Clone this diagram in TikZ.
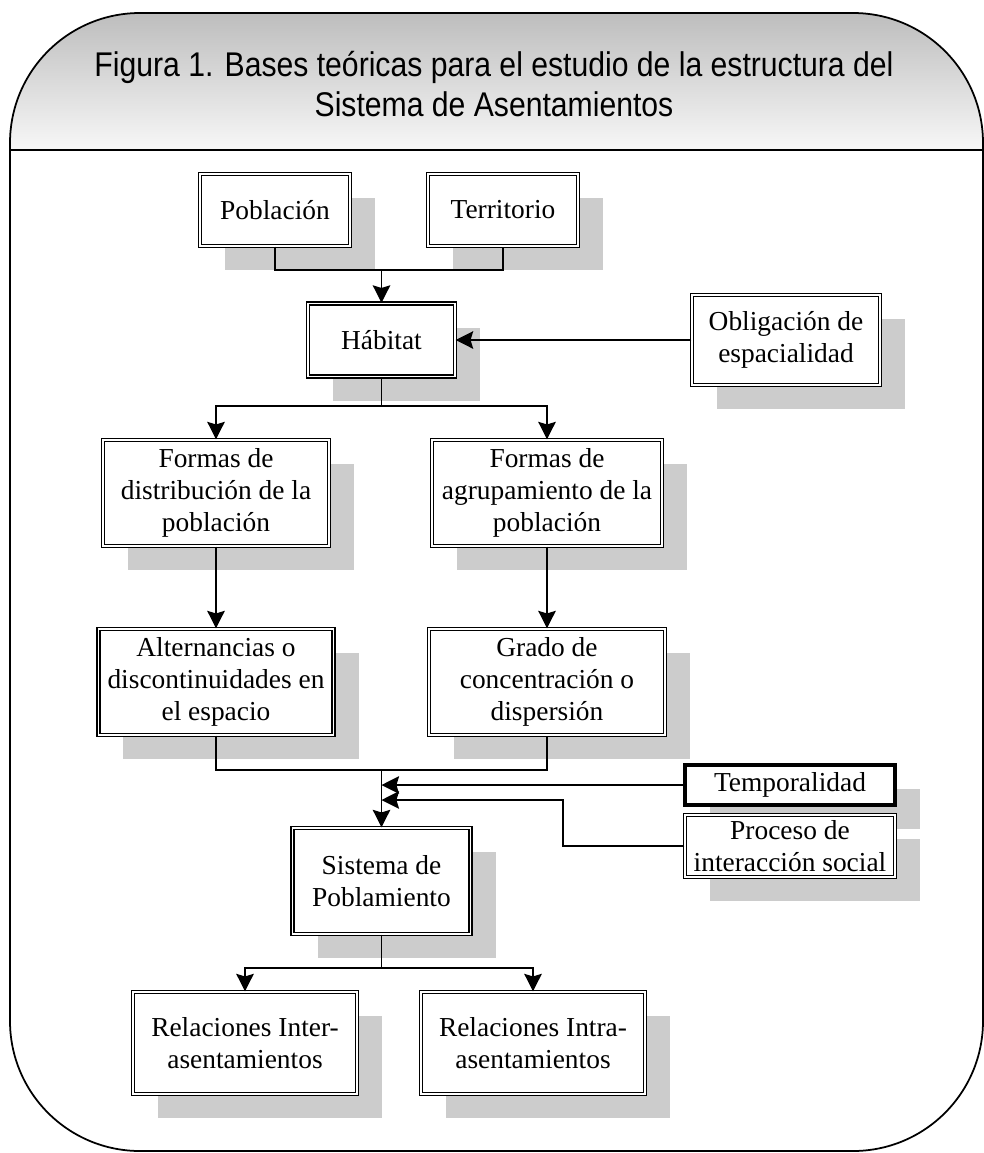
\documentclass[tikz,border=0pt]{standalone}
\usepackage{fontspec}
\setmainfont{Liberation Serif}
\newfontfamily\titulo[FakeStretch=0.88]{Liberation Sans}
\usetikzlibrary{arrows.meta,shadows}

\begin{document}
\begin{tikzpicture}[x=0.2mm,y=-0.2mm,
    caja/.style={draw,line width=0.7pt,double=white,double distance=1.1pt,fill=white,
      align=center,inner sep=1pt,font=\fontsize{15.6}{18.2}\selectfont,
      drop shadow={shadow xshift=5mm,shadow yshift=-4.8mm,fill=black!20,opacity=1}},
    cajagruesa/.style={draw,line width=1.8pt,fill=white,
      align=center,inner sep=1pt,font=\fontsize{15.6}{18.2}\selectfont,
      drop shadow={shadow xshift=5mm,shadow yshift=-4.8mm,fill=black!20,opacity=1}},
    linea/.style={line width=0.8pt},
    flecha/.style={linea,-{Stealth[length=10pt,width=10pt,inset=1.5pt]}},
    marco/.style={line width=1pt}]
        \useasboundingbox (0,0) rectangle (984,1153);
        % Frame and header
        \begin{scope}
            \clip[rounded corners=26mm] (10,13) rectangle (983,1151);
            \shade[top color=black!28,bottom color=black!3] (0,0) rectangle (984,150);
        \end{scope}
        \draw[marco,rounded corners=26mm] (10,13) rectangle (983,1151);
        \draw[marco] (10,150) -- (983,150);
        \node[font=\titulo\fontsize{19.5}{22.8}\selectfont,align=center,inner sep=0pt] (tit) at (494,84)
            {Figura 1. Bases teóricas para el estudio de la estructura del\\Sistema de Asentamientos};
        % Boxes
        \node[caja,minimum width=30mm,minimum height=14.4mm] (pob) at (275,210) {Población};
        \node[caja,minimum width=30mm,minimum height=14.4mm] (terr) at (503,210) {Territorio};
        \node[caja,minimum width=29.4mm,minimum height=14.6mm] (hab) at (381.5,340) {Hábitat};
        \node[caja,minimum width=37.6mm,minimum height=18mm] (oblig) at (786,340) {Obligación de\\espacialidad};
        \node[caja,minimum width=45.2mm,minimum height=21.2mm] (fdist) at (216,493) {Formas de\\distribución de la\\población};
        \node[caja,minimum width=46mm,minimum height=21.2mm] (fagr) at (547,493) {Formas de\\agrupamiento de la\\población};
        \node[caja,minimum width=47mm,minimum height=21.2mm] (alt) at (216,682) {Alternancias o\\discontinuidades en\\el espacio};
        \node[caja,minimum width=47.2mm,minimum height=21.2mm] (grado) at (547,682) {Grado de\\concentración o\\dispersión};
        \node[cajagruesa,minimum width=42mm,minimum height=8mm] (temp) at (790,785) {Temporalidad};
        \node[caja,minimum width=42mm,minimum height=12.4mm] (proc) at (790,846) {Proceso de\\interacción social};
        \node[caja,minimum width=35.6mm,minimum height=21.2mm] (sist) at (381.5,881) {Sistema de\\Poblamiento};
        \node[caja,minimum width=44.8mm,minimum height=20.4mm] (rinter) at (245,1043) {Relaciones Inter-\\asentamientos};
        \node[caja,minimum width=44.8mm,minimum height=20.4mm] (rintra) at (533,1043) {Relaciones Intra-\\asentamientos};
        % Junctions
        \coordinate (j1) at (381.5,270);
        \coordinate (j2) at (381.5,406);
        \coordinate (j3) at (381.5,770);
        \coordinate (j4) at (381.5,785);
        \coordinate (j5) at (381.5,800);
        \coordinate (q5) at (563,800);
        \coordinate (j6) at (381.5,968);
        % Connectors
        \draw[linea] (pob.south) |- (j1) -| (terr.south);
        \draw[flecha] (j1) -- (hab.north);
        \draw[flecha] (oblig.west) -- (hab.east);
        \draw[linea] (hab.south) -- (j2);
        \draw[flecha] (j2) -| (fdist.north);
        \draw[flecha] (j2) -| (fagr.north);
        \draw[flecha] (fdist.south) -- (alt.north);
        \draw[flecha] (fagr.south) -- (grado.north);
        \draw[linea] (alt.south) |- (j3) -| (grado.south);
        \draw[flecha] (j3) -- (sist.north);
        \draw[flecha] (temp.west) -- (j4);
        \draw[flecha] (proc.west) -| (q5) -- (j5);
        \draw[linea] (sist.south) -- (j6);
        \draw[flecha] (j6) -| (rinter.north);
        \draw[flecha] (j6) -| (rintra.north);
\end{tikzpicture}
\end{document}
